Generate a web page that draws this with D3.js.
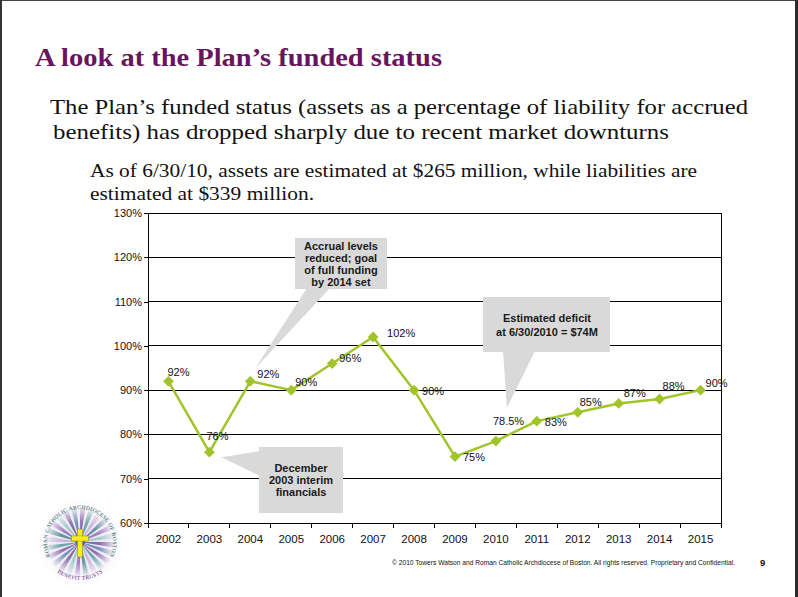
<!DOCTYPE html>
<html>
<head>
<meta charset="utf-8">
<script src="https://cdn.jsdelivr.net/npm/d3@7"></script>
<style>
  html, body { margin: 0; padding: 0; background: #fff; }
  svg { display: block; }
</style>
</head>
<body>
<script>
// ---- Data ----
const years = ["2002","2003","2004","2005","2006","2007","2008","2009","2010","2011","2012","2013","2014","2015"];
const funded = [92, 76, 92, 90, 96, 102, 90, 75, 78.5, 83, 85, 87, 88, 90];
const valueLabels = ["92%","76%","92%","90%","96%","102%","90%","75%","78.5%","83%","85%","87%","88%","90%"];
const yTickValues = [60, 70, 80, 90, 100, 110, 120, 130];
const yTickLabels = ["60%","70%","80%","90%","100%","110%","120%","130%"];

// ---- Layout (label nudges relative to their points) ----
const labelNudge = [[-1,-5],[-3,-12],[7,-3],[4,-4],[7,-2],[14,0],[8,5],[8,4],[-3,-16],[8,5],[2,-6],[5,-6],[3,-9],[5,-3]];

const W = 798, H = 597;
const svg = d3.select("body").append("svg").attr("width", W).attr("height", H);
svg.append("rect").attr("width", W).attr("height", H).attr("fill", "#fff");

// Frame
svg.append("rect").attr("x", 0).attr("y", 0).attr("width", W).attr("height", 1).attr("fill", "#444");
svg.append("rect").attr("x", 0).attr("y", 0).attr("width", 2).attr("height", H).attr("fill", "#333");
svg.append("rect").attr("x", 795).attr("y", 0).attr("width", 3).attr("height", H).attr("fill", "#2b2b2b");

// Title & text
svg.append("text").attr("x", 35).attr("y", 66)
  .attr("font-family", "'Liberation Serif', 'DejaVu Serif', serif").attr("font-weight", "bold")
  .attr("font-size", 26).attr("fill", "#68145f")
  .attr("textLength", 407).attr("lengthAdjust", "spacingAndGlyphs")
  .text("A look at the Plan\u2019s funded status");

const bodyFont = "'Liberation Serif', 'DejaVu Serif', serif";
[["The Plan\u2019s funded status (assets as a percentage of liability for accrued", 50, 114, 21, 698],
 ["benefits) has dropped sharply due to recent market downturns", 53, 139, 21, 616],
 ["As of 6/30/10, assets are estimated at $265 million, while liabilities are", 90, 177, 18.5, 607],
 ["estimated at $339 million.", 90, 200, 18.5, 224]].forEach(([t, x, y, fs, tl]) => {
  svg.append("text").attr("x", x).attr("y", y).attr("font-family", bodyFont)
    .attr("font-size", fs).attr("fill", "#111")
    .attr("textLength", tl).attr("lengthAdjust", "spacingAndGlyphs").text(t);
});

// ---- Chart ----
const x = d3.scaleBand().domain(years).range([148, 721]);
const y = d3.scaleLinear().domain([60, 130]).range([523, 213]);
const px = i => x(years[i]) + x.bandwidth() / 2;
const py = i => y(funded[i]);
const font = "Arial, 'Liberation Sans', sans-serif";

const chart = svg.append("g");

// Gridlines
chart.selectAll("line.grid").data(yTickValues.filter(v => v > 60)).join("line")
  .attr("x1", 148).attr("x2", 721).attr("y1", d => y(d)).attr("y2", d => y(d))
  .attr("stroke", "#000").attr("stroke-width", 1).attr("shape-rendering", "crispEdges");
// Right border
chart.append("line").attr("x1", 721).attr("x2", 721).attr("y1", y(130)).attr("y2", y(60))
  .attr("stroke", "#000").attr("shape-rendering", "crispEdges");

// Y axis
const yAxis = d3.axisLeft(y).tickValues(yTickValues).tickSize(4)
  .tickFormat((d, i) => yTickLabels[i]);
const gy = chart.append("g").attr("transform", "translate(148,0)").call(yAxis);
gy.select(".domain").attr("stroke", "#000").attr("shape-rendering", "crispEdges");
gy.selectAll(".tick line").attr("stroke", "#000").attr("shape-rendering", "crispEdges");
gy.selectAll(".tick text").attr("font-family", font).attr("font-size", 11).attr("fill", "#111").attr("x", -6);

// X axis with ticks at band boundaries
const xAxis = d3.axisBottom(x).tickSize(0).tickPadding(12);
const gx = chart.append("g").attr("transform", "translate(0,523)").call(xAxis);
gx.select(".domain").attr("stroke", "#000").attr("shape-rendering", "crispEdges");
gx.selectAll(".tick text").attr("font-family", font).attr("font-size", 11.5).attr("fill", "#111");
const bounds = years.map(d => x(d)).concat([x(years[years.length - 1]) + x.bandwidth()]);
gx.selectAll("line.bt").data(bounds).join("line")
  .attr("x1", d => d).attr("x2", d => d).attr("y1", 0).attr("y2", 5)
  .attr("stroke", "#000").attr("shape-rendering", "crispEdges");

// Callouts (tails point to data points)
const callColor = "#d9d9d9";
function callout(box, tail) {
  const [x0, y0, x1, y1] = box;
  svg.append("rect").attr("x", x0).attr("y", y0).attr("width", x1 - x0).attr("height", y1 - y0).attr("fill", callColor);
  svg.append("path").attr("d", d3.line()(tail) + "Z").attr("fill", callColor);
}
// 1: near 2004
callout([295, 238, 387, 289], [[307, 288], [px(2) + 5, py(2) - 13], [330, 288]]);
// 2: near 2010
callout([483, 297, 610, 352], [[503, 351], [px(8) + 11, py(8) - 33], [535, 351]]);
// 3: near 2003
callout([259, 447, 343, 513], [[260, 451], [px(1) + 12, py(1) + 5], [260, 476]]);

function calloutText(lines, cx, y0, lh) {
  lines.forEach((t, i) => {
    svg.append("text").attr("x", cx).attr("y", y0 + i * lh).attr("text-anchor", "middle")
      .attr("font-family", font).attr("font-weight", "bold").attr("font-size", 11).attr("fill", "#1a1a1a").text(t);
  });
}
calloutText(["Accrual levels", "reduced; goal", "of full funding", "by 2014 set"], 341, 250, 12);
calloutText(["Estimated deficit", "at 6/30/2010 = $74M"], 547, 322, 14);
calloutText(["December", "2003 interim", "financials"], 301, 472, 12);

// Line + markers
const lineColor = "#a0c42a";
const line = d3.line().x((d, i) => px(i)).y((d, i) => py(i));
svg.append("path").datum(funded).attr("d", line).attr("fill", "none")
  .attr("stroke", lineColor).attr("stroke-width", 2.5).attr("stroke-linejoin", "round");
const sym = d3.symbol().type(d3.symbolSquare).size(58);
svg.selectAll("path.mk").data(funded).join("path")
  .attr("d", sym).attr("fill", lineColor)
  .attr("transform", (d, i) => `translate(${px(i)},${py(i)}) rotate(45)`);

// Data labels
svg.selectAll("text.vl").data(valueLabels).join("text")
  .attr("x", (d, i) => px(i) + labelNudge[i][0])
  .attr("y", (d, i) => py(i) + labelNudge[i][1])
  .attr("font-family", font).attr("font-size", 11).attr("fill", "#111").text(d => d);

// Footer
svg.append("text").attr("x", 392).attr("y", 565).attr("font-family", font).attr("font-size", 6.5)
  .attr("fill", "#111").attr("textLength", 343).attr("lengthAdjust", "spacingAndGlyphs")
  .text("\u00a9 2010 Towers Watson and Roman Catholic Archdiocese of Boston. All rights reserved. Proprietary and Confidential.");
svg.append("text").attr("x", 760).attr("y", 566).attr("font-family", font).attr("font-size", 9.5)
  .attr("font-weight", "bold").attr("fill", "#111").text("9");

// ---- Logo ----
const cx = 80, cy = 542;
const defs = svg.append("defs");
const glow = defs.append("radialGradient").attr("id", "glow");
glow.append("stop").attr("offset", "0%").attr("stop-color", "#e6dcef").attr("stop-opacity", 1);
glow.append("stop").attr("offset", "60%").attr("stop-color", "#efe8f4").attr("stop-opacity", 0.8);
glow.append("stop").attr("offset", "100%").attr("stop-color", "#ffffff").attr("stop-opacity", 0);
const rayFade = defs.append("radialGradient").attr("id", "rayfade")
  .attr("gradientUnits", "userSpaceOnUse").attr("cx", cx).attr("cy", cy).attr("r", 36);
rayFade.append("stop").attr("offset", "0%").attr("stop-color", "#fff").attr("stop-opacity", 1);
rayFade.append("stop").attr("offset", "55%").attr("stop-color", "#fff").attr("stop-opacity", 0.85);
rayFade.append("stop").attr("offset", "100%").attr("stop-color", "#fff").attr("stop-opacity", 0);
const mask = defs.append("mask").attr("id", "raymask");
mask.append("circle").attr("cx", cx).attr("cy", cy).attr("r", 36).attr("fill", "url(#rayfade)");

const logo = svg.append("g");
logo.append("circle").attr("cx", cx).attr("cy", cy).attr("r", 47).attr("fill", "url(#glow)");
const rayColors = ["#6b3c96", "#2f8f86", "#b8a4d4", "#1f6f7a", "#7d4ea8", "#7cc4b4", "#5a3a8a", "#3a6f9f"];
const nRays = 24;
const rays = logo.append("g").attr("mask", "url(#raymask)");
for (let k = 0; k < nRays; k++) {
  const a0 = (k / nRays) * 2 * Math.PI, a1 = ((k + 0.6) / nRays) * 2 * Math.PI;
  rays.append("path")
    .attr("d", d3.arc().innerRadius(0).outerRadius(36).startAngle(a0).endAngle(a1)())
    .attr("transform", `translate(${cx},${cy})`)
    .attr("fill", rayColors[k % rayColors.length]).attr("opacity", 0.8);
}
logo.append("circle").attr("cx", cx).attr("cy", cy).attr("r", 5).attr("fill", "#3a1f6a").attr("opacity", 0.5);
// Cross
logo.append("rect").attr("x", cx - 2.5).attr("y", cy - 13).attr("width", 5).attr("height", 28)
  .attr("fill", "#f4ee1a").attr("stroke", "#8a8020").attr("stroke-width", 0.5);
logo.append("rect").attr("x", cx - 8.5).attr("y", cy - 6).attr("width", 17).attr("height", 5)
  .attr("fill", "#f4ee1a").attr("stroke", "#8a8020").attr("stroke-width", 0.5);
logo.append("rect").attr("x", cx - 2).attr("y", cy - 5.5).attr("width", 4).attr("height", 4).attr("fill", "#f4ee1a");

// Ring text
const r1 = 33;
const pt = (deg, r) => [cx + r * Math.sin(deg * Math.PI / 180), cy - r * Math.cos(deg * Math.PI / 180)];
const a = pt(-140, r1), b = pt(140, r1);
defs.append("path").attr("id", "ringTop")
  .attr("d", `M${a[0]},${a[1]} A${r1},${r1} 0 1 1 ${b[0]},${b[1]}`);
const r2 = 38;
const c = pt(-125, r2), dd = pt(125, r2);
defs.append("path").attr("id", "ringBot")
  .attr("d", `M${c[0]},${c[1]} A${r2},${r2} 0 0 0 ${dd[0]},${dd[1]}`);
logo.append("text").attr("font-family", "'Liberation Serif', serif").attr("font-size", 5.6)
  .attr("fill", "#255f55").attr("letter-spacing", 0.3)
  .append("textPath").attr("href", "#ringTop").attr("startOffset", "50%").attr("text-anchor", "middle")
  .text("ROMAN CATHOLIC ARCHDIOCESE OF BOSTON");
logo.append("text").attr("font-family", "'Liberation Serif', serif").attr("font-size", 5.6)
  .attr("fill", "#5a2c7a").attr("letter-spacing", 0.3)
  .append("textPath").attr("href", "#ringBot").attr("startOffset", "50%").attr("text-anchor", "middle")
  .text("BENEFIT TRUSTS");
</script>
</body>
</html>
